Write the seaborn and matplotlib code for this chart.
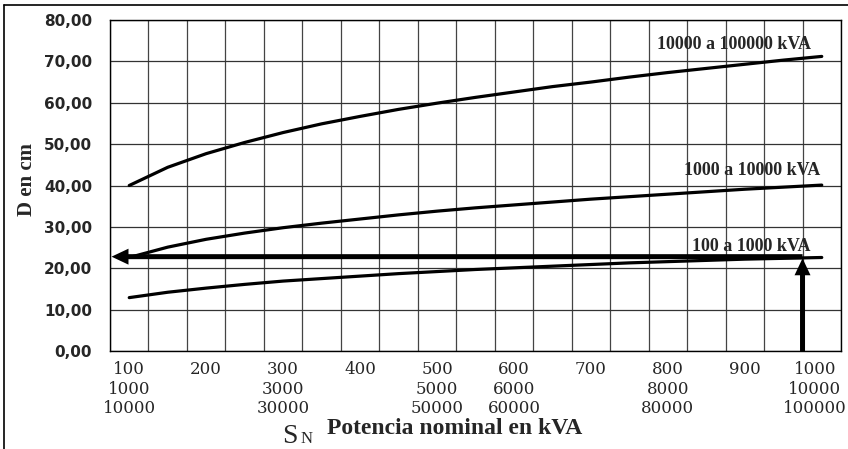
import matplotlib
matplotlib.use("Agg")
import numpy as np
import pandas as pd
import matplotlib.pyplot as plt
import seaborn as sns
from matplotlib.lines import Line2D
from matplotlib.transforms import ScaledTranslation

# ---------------- data ----------------
S_kva = [100, 150, 200, 250, 300, 350, 400, 450, 500, 550,
         600, 650, 700, 750, 800, 850, 900, 950, 1000]
d_100_1000 = [12.9, 14.2, 15.2, 16.1, 16.9, 17.5, 18.1, 18.7, 19.2, 19.7,
              20.1, 20.5, 20.9, 21.3, 21.6, 21.9, 22.2, 22.4, 22.6]
d_1000_10000 = [22.6, 25.1, 27.0, 28.5, 29.8, 30.9, 31.9, 32.9, 33.8, 34.6,
                35.3, 36.0, 36.7, 37.3, 37.9, 38.5, 39.1, 39.6, 40.1]
d_10000_100000 = [40.0, 44.4, 47.7, 50.4, 52.8, 54.9, 56.7, 58.4, 59.9, 61.3,
                  62.6, 63.9, 65.0, 66.2, 67.3, 68.3, 69.3, 70.3, 71.2]
series_names = ["100 a 1000 kVA", "1000 a 10000 kVA", "10000 a 100000 kVA"]
labelled_S = [100, 200, 300, 400, 500, 600, 700, 800, 900, 1000]
x_tick_labels = ["100\n1000\n10000", "200", "300\n3000\n30000", "400",
                 "500\n5000\n50000", "600\n6000\n60000", "700",
                 "800\n8000\n80000", "900", "1000\n10000\n100000"]
y_ticks = [0, 10, 20, 30, 40, 50, 60, 70, 80]
y_tick_labels = ["0,00", "10,00", "20,00", "30,00", "40,00",
                 "50,00", "60,00", "70,00", "80,00"]
example_S = 975      # example reading on the chart
example_D = 22.8

# ---------------- build table ----------------
pos = list(range(len(S_kva)))
df = pd.concat([
    pd.DataFrame({"pos": pos, "S": S_kva, "D": vals, "serie": name})
    for name, vals in zip(series_names, [d_100_1000, d_1000_10000, d_10000_100000])
], ignore_index=True)

sns.set_style("white")
plt.rcParams["font.family"] = ["DejaVu Sans"]

W, H = 848, 449
fig = plt.figure(figsize=(W / 100, H / 100), dpi=100)
ax = fig.add_axes([110 / W, 1 - 351 / H, 731 / W, 331 / H])

sns.lineplot(data=df, x="pos", y="D", hue="serie", palette=["black"] * 3,
             legend=False, linewidth=2.3, ax=ax, zorder=3)

n = len(S_kva)
ax.set_xlim(-0.5, n - 0.5)
ax.set_ylim(0, 80)

# category boundaries: grid + tick marks
ax.set_xticks(np.arange(-0.5, n, 1.0), minor=True)
ax.set_xticks([S_kva.index(s) for s in labelled_S])
ax.set_xticklabels(x_tick_labels, fontfamily="DejaVu Serif", fontsize=12,
                   linespacing=1.22)
ax.tick_params(axis="x", which="major", length=0, pad=7)
ax.tick_params(axis="x", which="minor", length=6, width=1, color="black",
               direction="out")
ax.set_yticks(y_ticks)
ax.set_yticklabels(y_tick_labels, fontweight="bold", fontsize=11)
ax.tick_params(axis="y", which="major", length=6, width=1, color="black",
               direction="out", pad=7)

# nudge the last (widest) x label inward as in the reference
last = ax.get_xticklabels()[-1]
last.set_transform(last.get_transform() +
                   ScaledTranslation(-7 / 100, 0, fig.dpi_scale_trans))

ax.grid(False)
ax.grid(True, which="minor", axis="x", color="#444444", linewidth=0.9)
ax.grid(True, which="major", axis="y", color="#333333", linewidth=0.9)
ax.set_axisbelow(True)
for sp in ax.spines.values():
    sp.set_color("black")
    sp.set_linewidth(1.0)
    sp.set_visible(True)

ax.set_xlabel("")
ax.set_ylabel("")

# curve labels
lbl_font = dict(fontfamily="Liberation Serif", fontweight="bold", fontsize=13,
                ha="right", va="baseline", zorder=4)
ax.text(17.71, 73.0, series_names[2], **lbl_font)
ax.text(17.97, 42.5, series_names[1], **lbl_font)
ax.text(17.71, 24.2, series_names[0], **lbl_font)

# example arrows
ex_x = float(np.interp(example_S, S_kva, pos))
arrow_style = "simple,head_length=1.22,head_width=1.15,tail_width=0.36"
ax.annotate("", xy=(-0.46, example_D), xytext=(ex_x, example_D),
            arrowprops=dict(arrowstyle=arrow_style, mutation_scale=10,
                            color="black", lw=0, shrinkA=0, shrinkB=0),
            annotation_clip=False, zorder=5)
ax.annotate("", xy=(ex_x, example_D - 0.4), xytext=(ex_x, 0),
            arrowprops=dict(arrowstyle=arrow_style, mutation_scale=10,
                            color="black", lw=0, shrinkA=0, shrinkB=0),
            annotation_clip=False, zorder=5)

# axis titles
fig.text(27 / W, 1 - 180 / H, "D en cm", rotation=90, ha="center", va="center",
         fontfamily="Liberation Serif", fontweight="bold", fontsize=15)
fig.text(282 / W, 1 - 443 / H, "S", ha="left", va="baseline",
         fontfamily="Liberation Serif", fontsize=20)
fig.text(301 / W, 1 - 443 / H, "N", ha="left", va="baseline",
         fontfamily="Liberation Serif", fontsize=12)
fig.text(327 / W, 1 - 434 / H, "Potencia nominal en kVA", ha="left",
         va="baseline", fontfamily="Liberation Serif", fontweight="bold",
         fontsize=17)

# outer frame (top and left edges)
fig.add_artist(Line2D([4 / W, 1.0], [1 - 5 / H, 1 - 5 / H],
                      transform=fig.transFigure, color="black", lw=1.2))
fig.add_artist(Line2D([4 / W, 4 / W], [0, 1 - 5 / H],
                      transform=fig.transFigure, color="black", lw=1.2))

fig.savefig("out.png", dpi=100)
